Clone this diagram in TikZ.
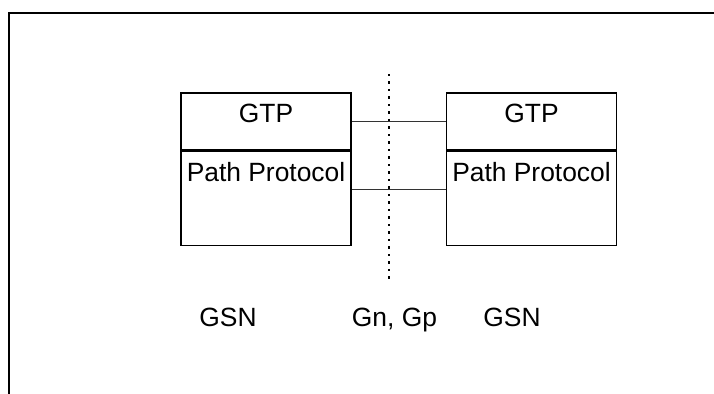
\documentclass[tikz,border=0pt]{standalone}
\usepackage{fontspec}
\setmainfont{Liberation Sans}
\usetikzlibrary{positioning}
\begin{document}
\begin{tikzpicture}[x=0.5pt,y=-0.5pt,
        txt/.style={font=\fontsize{13.2}{15}\selectfont},
        layer/.style={draw,line width=0.75pt,minimum width=85pt,inner sep=0pt},
        toptext/.style={label={[txt,anchor=north,inner sep=5.5pt]north:#1}},
        link/.style={line width=0.55pt,black!80}]
        \useasboundingbox(0,0)rectangle(714,394);
        % frame
        \draw[line width=1.3pt](716,13)--(9,13)--(9,396);
        % left GSN
        \node[layer,minimum height=28.5pt,toptext=GTP](gtpL)at(266,121.5){};
        \node[layer,minimum height=47pt,toptext=Path Protocol,below=0pt of gtpL](pathL){};
        % right GSN
        \node[layer,minimum height=28.5pt,toptext=GTP](gtpR)at(531.5,121.5){};
        \node[layer,minimum height=47pt,toptext=Path Protocol,below=0pt of gtpR](pathR){};
        \draw[link](gtpL.east)--(gtpR.west);
        \draw[link]([yshift=4.5pt]pathL.east)--([yshift=4.5pt]pathR.west);
        % interface
        \coordinate(cutT)at(389,74);
        \coordinate(cutB)at(389,283);
        \draw[line width=1.1pt,dash pattern=on 1.1pt off 2.65pt](cutT)--(cutB);
        \node[txt,anchor=base](gsnL)at(228,327){GSN};
        \node[txt,anchor=base](ifc)at(394.5,327){Gn, Gp};
        \node[txt,anchor=base](gsnR)at(512,327){GSN};
    \end{tikzpicture}
\end{document}
